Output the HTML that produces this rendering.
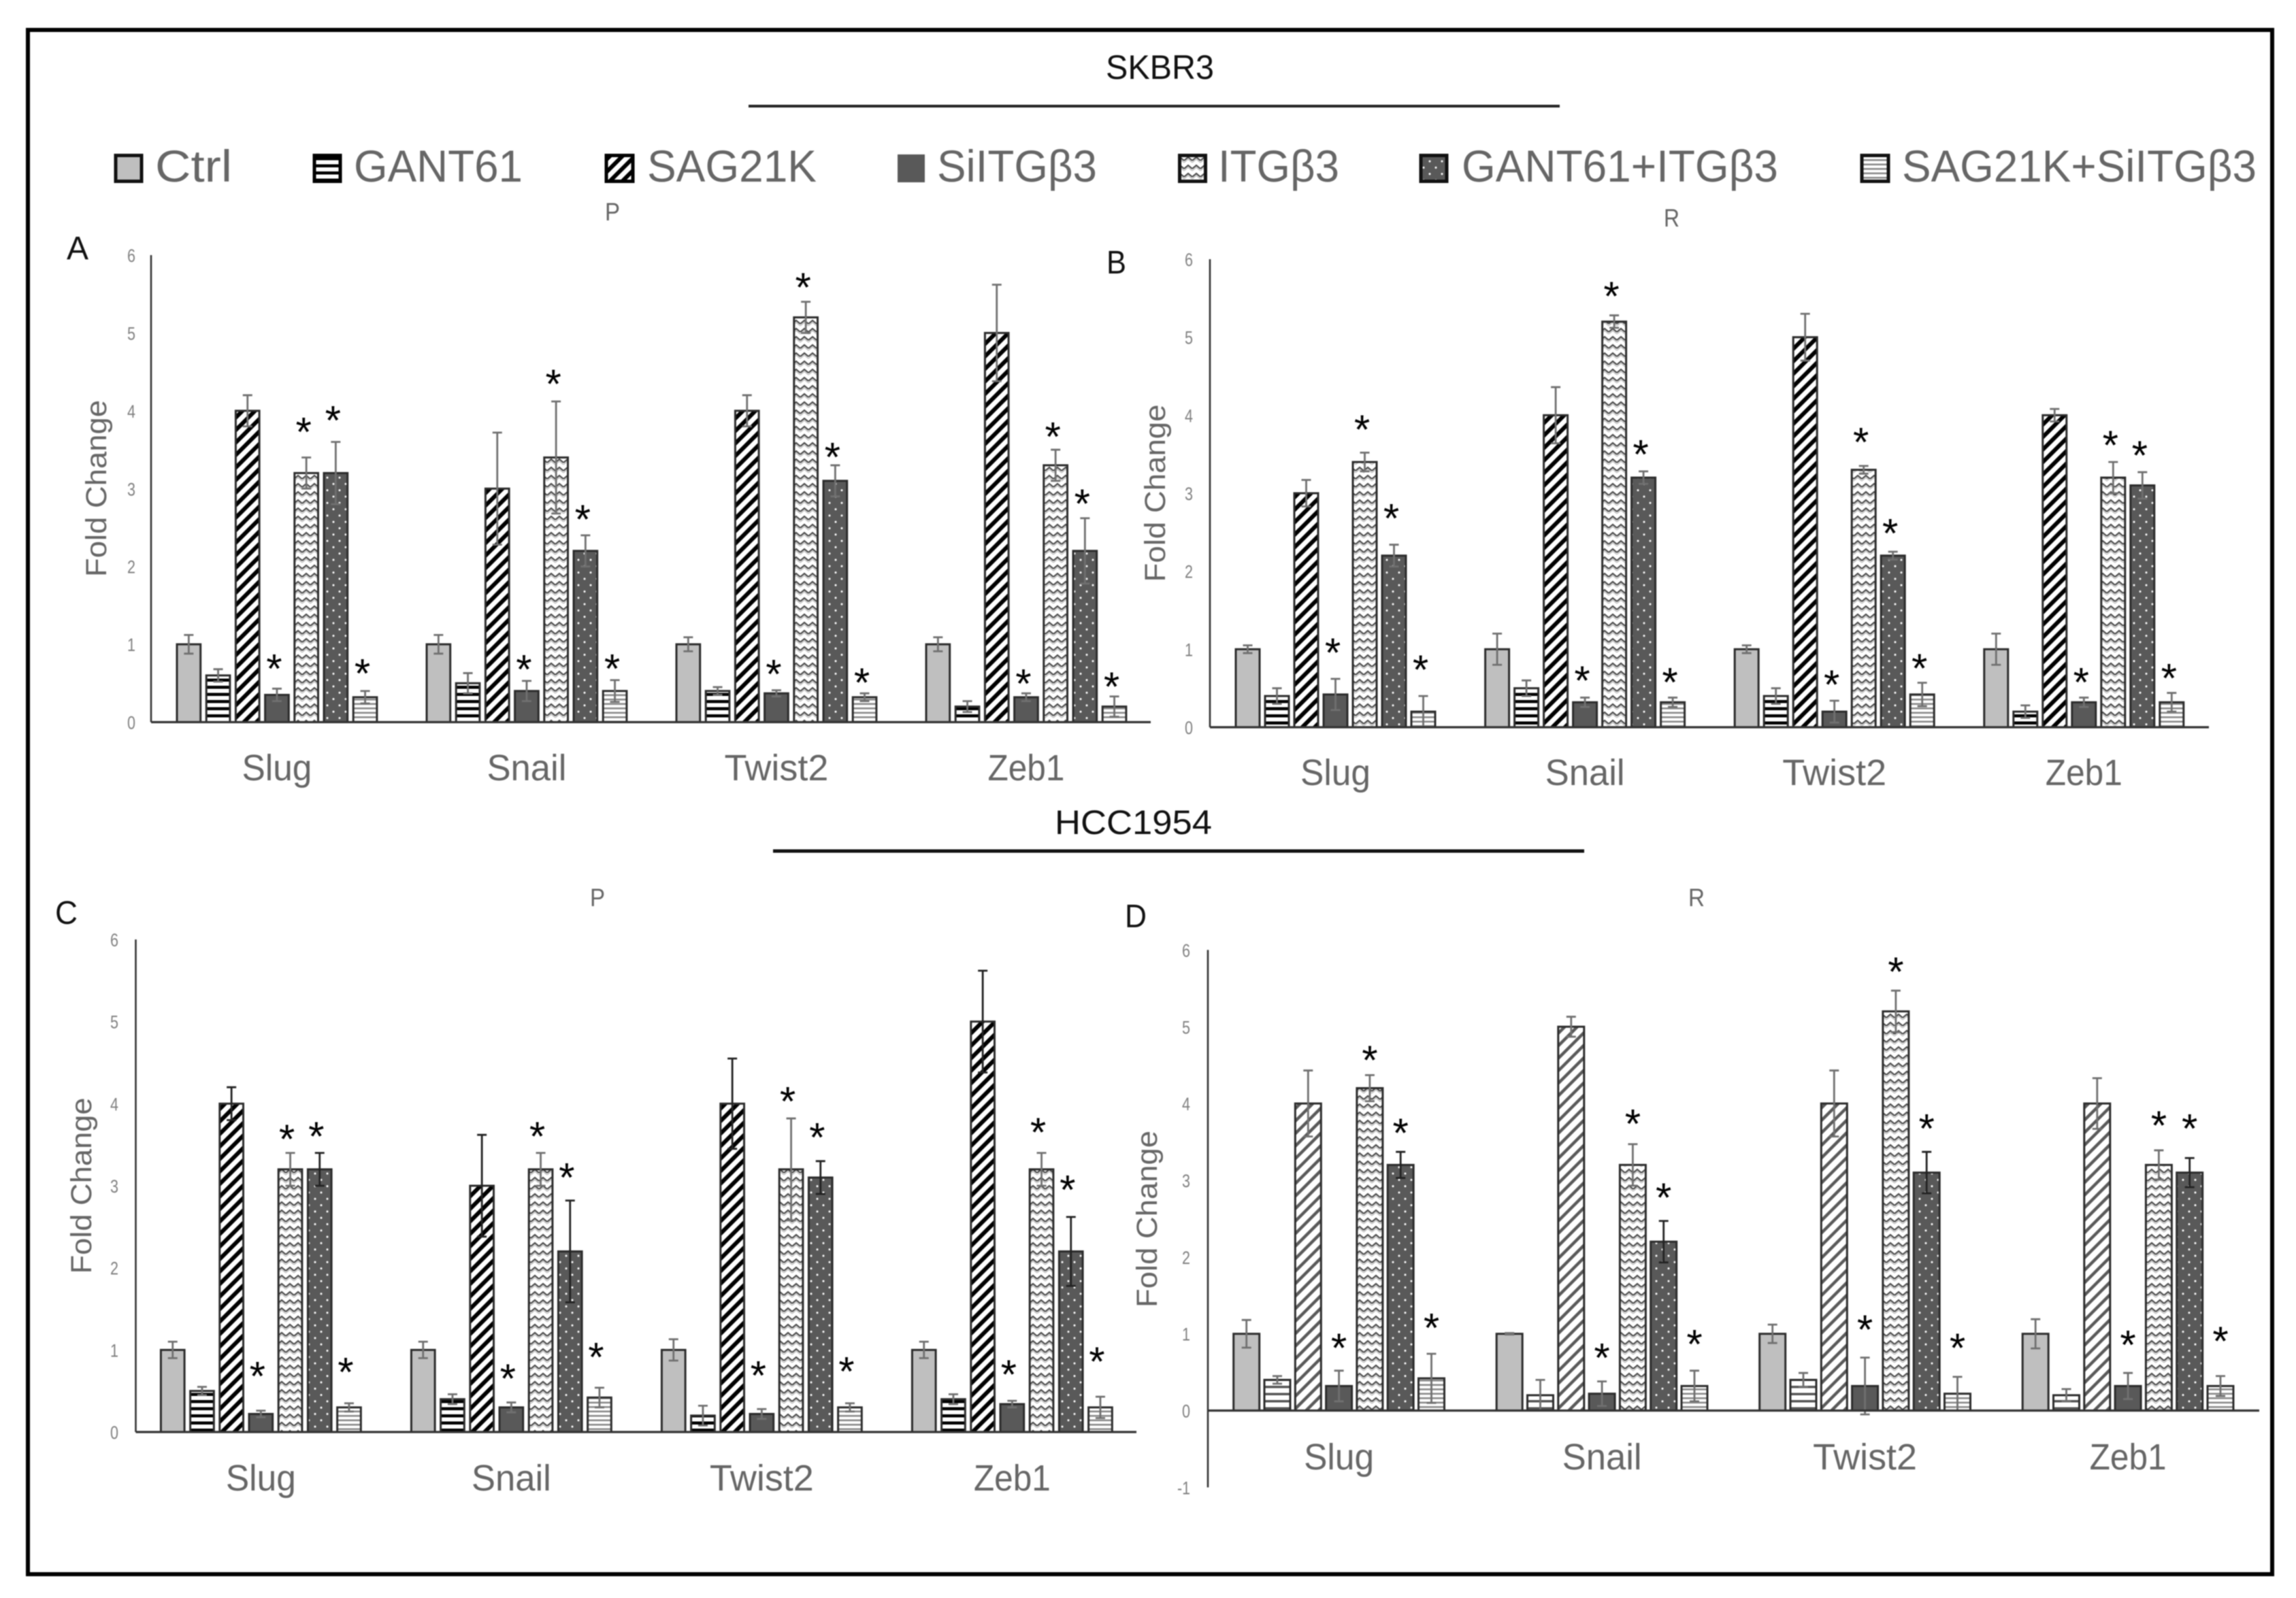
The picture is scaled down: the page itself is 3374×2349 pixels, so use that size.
<!DOCTYPE html>
<html lang="en">
<head>
<meta charset="utf-8">
<title>SKBR3 and HCC1954 fold change charts</title>
<style>
html,body{margin:0;padding:0;background:#fff;width:3374px;height:2349px;overflow:hidden}
svg{display:block;filter:blur(0.8px)}
text{font-family:"Liberation Sans",sans-serif}
</style>
</head>
<body>
<svg id="figure" xmlns="http://www.w3.org/2000/svg" width="3374" height="2349" viewBox="0 0 3374 2349">
<defs>
<pattern id="p-solid-light" patternUnits="userSpaceOnUse" width="10" height="10"><rect width="10" height="10" fill="#bfbfbf"/></pattern>
<pattern id="p-hbar" patternUnits="userSpaceOnUse" width="10.5" height="10.5"><rect width="10.5" height="10.5" fill="#fff"/><rect width="10.5" height="4.5" fill="#000"/></pattern>
<pattern id="p-hbar-soft" patternUnits="userSpaceOnUse" width="10.5" height="10.5"><rect width="10.5" height="10.5" fill="#fff"/><rect width="10.5" height="3.5" fill="#555"/></pattern>
<pattern id="p-diag" patternUnits="userSpaceOnUse" width="13" height="13" patternTransform="rotate(45)"><rect width="13" height="13" fill="#fff"/><rect width="6" height="13" fill="#000"/></pattern>
<pattern id="p-diag-soft" patternUnits="userSpaceOnUse" width="13" height="13" patternTransform="rotate(45)"><rect width="13" height="13" fill="#fff"/><rect width="4.5" height="13" fill="#5a5a5a"/></pattern>
<pattern id="p-solid-dark" patternUnits="userSpaceOnUse" width="10" height="10"><rect width="10" height="10" fill="#595959"/></pattern>
<pattern id="p-zig" patternUnits="userSpaceOnUse" width="12" height="12"><rect width="12" height="12" fill="#fff"/><path d="M0 8 L6 3 L12 8" fill="none" stroke="#4a4a4a" stroke-width="2.2"/><path d="M0 11 L6 6 L12 11" fill="none" stroke="#c4c4c4" stroke-width="1.5"/></pattern>
<pattern id="p-dots" patternUnits="userSpaceOnUse" width="18" height="18.6"><rect width="18" height="18.6" fill="#595959"/><circle cx="4" cy="4.6" r="1.5" fill="#fff"/><circle cx="13" cy="13.9" r="1.5" fill="#fff"/></pattern>
<pattern id="p-thin" patternUnits="userSpaceOnUse" width="6.5" height="6.5"><rect width="6.5" height="6.5" fill="#fff"/><rect width="6.5" height="2.6" fill="#8a8a8a"/></pattern>
</defs>

<rect x="41" y="44" width="3298" height="2270" fill="#fff" stroke="#000" stroke-width="6"/>

<text x="1625" y="116" font-size="50" fill="#111" textLength="159" lengthAdjust="spacingAndGlyphs">SKBR3</text>
<line x1="1100" y1="156" x2="2292" y2="156" stroke="#222" stroke-width="4"/>
<text x="1550" y="1226" font-size="50" fill="#111" textLength="231" lengthAdjust="spacingAndGlyphs">HCC1954</text>
<line x1="1136" y1="1251" x2="2328" y2="1251" stroke="#111" stroke-width="5"/>

<g font-size="66" fill="#666">
<rect x="170" y="228.5" width="38" height="38" fill="url(#p-solid-light)" stroke="#111" stroke-width="5"/>
<text x="228" y="267" textLength="113" lengthAdjust="spacingAndGlyphs">Ctrl</text>
<rect x="462" y="228.5" width="38" height="38" fill="url(#p-hbar)" stroke="#000" stroke-width="5"/>
<text x="520" y="267" textLength="248" lengthAdjust="spacingAndGlyphs">GANT61</text>
<rect x="891" y="228.5" width="39" height="38" fill="url(#p-diag)" stroke="#000" stroke-width="5"/>
<text x="951" y="267" textLength="249" lengthAdjust="spacingAndGlyphs">SAG21K</text>
<rect x="1319" y="227" width="40" height="41" fill="#595959"/>
<text x="1377" y="267" textLength="235" lengthAdjust="spacingAndGlyphs">SiITGβ3</text>
<rect x="1733.5" y="228.5" width="38" height="38" fill="url(#p-zig)" stroke="#111" stroke-width="5"/>
<text x="1790" y="267" textLength="178" lengthAdjust="spacingAndGlyphs">ITGβ3</text>
<rect x="2088" y="228.5" width="38" height="38" fill="url(#p-dots)" stroke="#111" stroke-width="5"/>
<text x="2148" y="267" textLength="465" lengthAdjust="spacingAndGlyphs">GANT61+ITGβ3</text>
<rect x="2736" y="228.5" width="39" height="38" fill="url(#p-thin)" stroke="#111" stroke-width="5"/>
<text x="2795" y="267" textLength="521" lengthAdjust="spacingAndGlyphs">SAG21K+SiITGβ3</text>
</g>

<g font-size="37" fill="#666">
<text x="889" y="324" textLength="22" lengthAdjust="spacingAndGlyphs">P</text>
<text x="2445" y="333" textLength="23" lengthAdjust="spacingAndGlyphs">R</text>
<text x="867" y="1332" textLength="22" lengthAdjust="spacingAndGlyphs">P</text>
<text x="2481" y="1332" textLength="24" lengthAdjust="spacingAndGlyphs">R</text>
</g>
<g font-size="48" fill="#111">
<text x="98" y="381" textLength="32" lengthAdjust="spacingAndGlyphs">A</text>
<text x="1626" y="402" textLength="29" lengthAdjust="spacingAndGlyphs">B</text>
<text x="81" y="1358" textLength="33" lengthAdjust="spacingAndGlyphs">C</text>
<text x="1653" y="1363" textLength="32" lengthAdjust="spacingAndGlyphs">D</text>
</g>
</svg>

<script>
const categories = ['Slug', 'Snail', 'Twist2', 'Zeb1'];
const seriesNames = ['Ctrl', 'GANT61', 'SAG21K', 'SiITGb3', 'ITGb3', 'GANT61+ITGb3', 'SAG21K+SiITGb3'];
const yTicks = [0, 1, 2, 3, 4, 5, 6];
const yTicksD = [-1, 0, 1, 2, 3, 4, 5, 6];
const yTitle = 'Fold Change';

const valuesA = [[1, .6, 4, .35, 3.2, 3.2, .32], [1, .5, 3, .4, 3.4, 2.2, .4], [1, .4, 4, .37, 5.2, 3.1, .32], [1, .2, 5, .32, 3.3, 2.2, .2]];
const errorsA = [[.12, .08, .2, .08, .2, .4, .08], [.12, .13, .72, .13, .72, .2, .14], [.09, .05, .2, .04, .2, .2, .05], [.09, .07, .62, .05, .2, .42, .13]];
const starGapsA = [[.33, .4, .35, .3], [.22, .3, .28, .22], [.28, .26, .18, .21], [.2, .24, .26, .2]];

const valuesB = [[1, .4, 3, .42, 3.4, 2.2, .2], [1, .5, 4, .32, 5.2, 3.2, .32], [1, .4, 5, .2, 3.3, 2.2, .42], [1, .2, 4, .32, 3.2, 3.1, .32]];
const errorsB = [[.05, .1, .17, .2, .12, .14, .2], [.2, .1, .36, .06, .08, .08, .06], [.05, .1, .3, .14, .05, .05, .15], [.2, .08, .08, .06, .2, .17, .12]];
const starGapsB = [[.41, .37, .41, .41], [.29, .32, .29, .27], [.28, .38, .31, .26], [.27, .29, .29, .26]];

const valuesC = [[1, .5, 4, .22, 3.2, 3.2, .3], [1, .4, 3, .3, 3.2, 2.2, .42], [1, .2, 4, .22, 3.2, 3.1, .3], [1, .4, 5, .34, 3.2, 2.2, .3]];
const errorsC = [[.1, .05, .2, .04, .2, .2, .05], [.1, .06, .62, .06, .2, .62, .12], [.13, .12, .55, .06, .62, .2, .05], [.1, .06, .62, .04, .2, .42, .13]];
const starGapsC = [[.49, .24, .27, .45], [.36, .27, .35, .44], [.48, .28, .36, .46], [.39, .32, .4, .5]];

const valuesD = [[1, .4, 4, .32, 4.2, 3.2, .42], [1, .2, 5, .22, 3.2, 2.2, .32], [1, .4, 4, .32, 5.2, 3.1, .22], [1, .2, 4, .32, 3.2, 3.1, .32]];
const errorsD = [[.18, .05, .43, .2, .17, .17, .32], [.01, .2, .13, .16, .27, .27, .2], [.12, .09, .43, .37, .27, .27, .22], [.19, .08, .33, .17, .19, .19, .13]];
const starGapsD = [[.37, .27, .32, .41], [.38, .34, .38, .42], [.44, .32, .38, .45], [.44, .4, .46, .53]];

const SVGNS = 'http://www.w3.org/2000/svg';
const root = document.getElementById('figure');
const fills = ['p-solid-light', 'p-hbar', 'p-diag', 'p-solid-dark', 'p-zig', 'p-dots', 'p-thin'];
const catWidths = [103, 117, 153, 113];

function svgEl(tag, parent, attrs, text) {
  const el = document.createElementNS(SVGNS, tag);
  for (const k in attrs) el.setAttribute(k, attrs[k]);
  if (text !== undefined) el.textContent = text;
  parent.appendChild(el);
  return el;
}

function drawPanel(p) {
  const unit = (p.y0 - p.y6) / 6;
  const yScale = v => p.y0 - v * unit;
  const groupX = g => p.x0 + g * p.groupPitch;
  const barX = (g, s) => groupX(g) + s * p.barPitch;

  const panel = svgEl('g', root, {});
  
  

  p.values.forEach((groupVals, g) => {
    groupVals.forEach((v, s) => {
      const fill = (p.overrides && p.overrides[s]) || fills[s];
      const bar = svgEl('rect', panel, {
        x: barX(g, s), y: yScale(Math.max(v, 0)), width: p.barW, height: Math.abs(yScale(v) - p.y0),
        fill: 'url(#' + fill + ')', stroke: '#2b2b2b', 'stroke-width': 3
      });
      
      
    });
  });

  p.values.forEach((groupVals, g) => {
    groupVals.forEach((v, s) => {
      const e = p.errors[g][s];
      const cx = barX(g, s) + p.barW / 2 + (p.errShift || 0);
      const top = yScale(v + e), bottom = yScale(v - e);
      const color = p.darkErr.includes(s) ? '#222' : '#707070';
      const path = 'M' + cx + ' ' + top + 'V' + bottom +
        'M' + (cx - 7) + ' ' + top + 'H' + (cx + 7) +
        'M' + (cx - 7) + ' ' + bottom + 'H' + (cx + 7);
      const err = svgEl('path', panel, { d: path, fill: 'none', stroke: color, 'stroke-width': 2.8 });
      
      
    });
  });

  [3, 4, 5, 6].forEach((s, i) => {
    categories.forEach((c, g) => {
      const v = p.values[g][s] + p.errors[g][s] + p.starGaps[g][i];
      const star = svgEl('text', panel, {
        x: barX(g, s) + p.barW / 2 + p.starShift, y: yScale(v) + 29,
        'font-size': 60, fill: '#000', 'text-anchor': 'middle'
      }, '*');
      
      
    });
  });

  const yAxis = svgEl('line', panel, { x1: p.axisX, x2: p.axisX, y1: yScale(p.ticks[p.ticks.length - 1]), y2: yScale(p.ticks[0]), stroke: '#333', 'stroke-width': 2.6 });
  
  

  const xAxis = svgEl('line', panel, { x1: p.axisX, x2: p.axisEnd, y1: p.y0, y2: p.y0, stroke: '#333', 'stroke-width': 3.2 });
  
  

  p.ticks.forEach(t => {
    const label = svgEl('text', panel, {
      x: p.tickX, y: yScale(t) + 10, 'font-size': 27, fill: '#808080', 'text-anchor': 'end',
      textLength: t < 0 ? 19 : 12, lengthAdjust: 'spacingAndGlyphs'
    }, String(t));
    
    
  });

  categories.forEach((c, g) => {
    const label = svgEl('text', panel, {
      x: barX(g, 3) + p.barW / 2, y: p.catY, 'font-size': 54, fill: '#666', 'text-anchor': 'middle',
      textLength: catWidths[g], lengthAdjust: 'spacingAndGlyphs'
    }, c);
    
    
  });

  const title = svgEl('text', panel, {
    transform: 'translate(' + p.titleX + ' ' + p.titleY + ') rotate(-90)',
    'font-size': 43, fill: '#666', 'text-anchor': 'middle',
    textLength: p.titleLen, lengthAdjust: 'spacingAndGlyphs'
  }, yTitle);
  
  
}

drawPanel({ id: 'a', values: valuesA, errors: errorsA, starGaps: starGapsA, ticks: yTicks,
  axisX: 222, axisEnd: 1691, y0: 1061.5, y6: 375, x0: 260, barW: 34.7, barPitch: 43.2, groupPitch: 367,
  tickX: 199, catY: 1147, titleX: 156, titleY: 718, titleLen: 260, starShift: -4, darkErr: [] });
drawPanel({ id: 'b', values: valuesB, errors: errorsB, starGaps: starGapsB, ticks: yTicks,
  axisX: 1778, axisEnd: 3246, y0: 1069, y6: 381, x0: 1816, barW: 35, barPitch: 43, groupPitch: 366.6,
  tickX: 1753, catY: 1154, titleX: 1712, titleY: 725, titleLen: 261, starShift: -4, darkErr: [] });
drawPanel({ id: 'c', values: valuesC, errors: errorsC, starGaps: starGapsC, ticks: yTicks,
  axisX: 199.5, axisEnd: 1670, y0: 2105, y6: 1381, x0: 236.4, barW: 34.7, barPitch: 43.2, groupPitch: 368,
  tickX: 174, catY: 2191, titleX: 134, titleY: 1743, titleLen: 259, starShift: -5, darkErr: [2, 5] });
drawPanel({ id: 'd', values: valuesD, errors: errorsD, starGaps: starGapsD, ticks: yTicksD,
  axisX: 1775, axisEnd: 3320, y0: 2073.5, y6: 1396.4, x0: 1812.7, barW: 38, barPitch: 45.3, groupPitch: 386.5,
  tickX: 1749, catY: 2160, titleX: 1700, titleY: 1792, titleLen: 260, starShift: 0, darkErr: [5],
  overrides: { 1: 'p-hbar-soft', 2: 'p-diag-soft' } });
</script>
</body>
</html>
